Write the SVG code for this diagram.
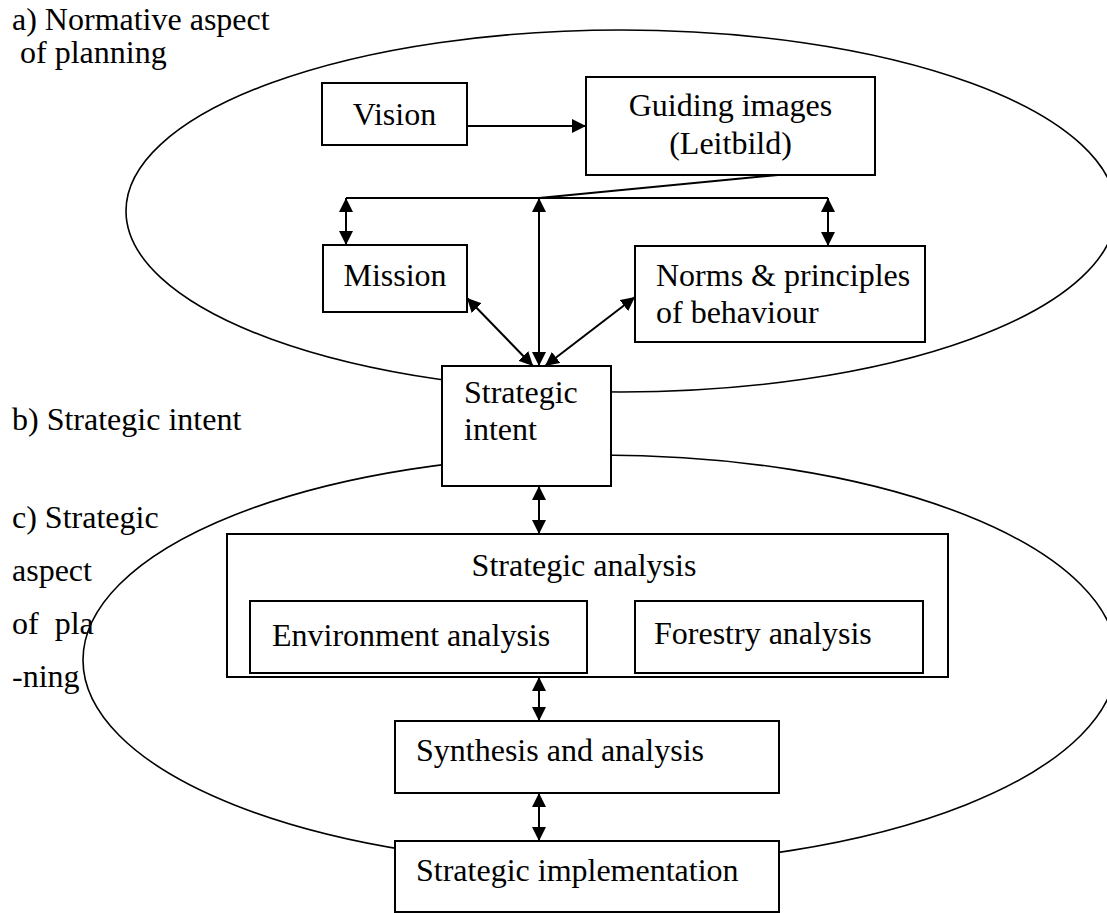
<svg xmlns="http://www.w3.org/2000/svg" width="1107" height="913" viewBox="0 0 1107 913">
<defs>
<style>
text{font-family:"Liberation Serif","Times New Roman",serif;font-size:32px;fill:#000}
.box{fill:#fff;stroke:#000;stroke-width:2}
.ell{fill:none;stroke:#000;stroke-width:1.6}
.con{fill:none;stroke:#000;stroke-width:2}
.mid{text-anchor:middle}
</style>
<marker id="ah" viewBox="0 0 14 14" refX="14" refY="7" markerWidth="14" markerHeight="14" markerUnits="userSpaceOnUse" orient="auto-start-reverse"><path d="M0,0 L14,7 L0,14 z" fill="#000"/></marker>
</defs>
<rect width="1107" height="913" fill="#fff"/>
<g id="labels">
<text x="12" y="30">a) Normative aspect</text>
<text x="12" y="63" xml:space="preserve"> of planning</text>
<text x="12" y="430">b) Strategic intent</text>
<text x="12" y="528">c) Strategic</text>
<text x="12" y="581">aspect</text>
<text x="12" y="634" xml:space="preserve">of  pla</text>
<text x="12" y="687">-ning</text>
</g>
<g id="regions">
<ellipse class="ell" cx="621" cy="211" rx="495" ry="181"/>
<ellipse class="ell" cx="600" cy="660" rx="517" ry="205"/>
</g>
<g id="vision"><rect class="box" x="322" y="83" width="145" height="62"/><text class="mid" x="394.5" y="125">Vision</text></g>
<g id="guiding"><rect class="box" x="586" y="77" width="289" height="98"/><text class="mid" x="730.5" y="116">Guiding images</text><text class="mid" x="730.5" y="154">(Leitbild)</text></g>
<g id="mission"><rect class="box" x="323" y="245" width="144" height="67"/><text class="mid" x="395" y="286">Mission</text></g>
<g id="norms"><rect class="box" x="635" y="246" width="290" height="96"/><text x="656" y="286">Norms &amp; principles</text><text x="656" y="323">of behaviour</text></g>
<g id="intent"><rect class="box" x="442" y="366" width="169" height="120"/><text x="464" y="403">Strategic</text><text x="464" y="440">intent</text></g>
<g id="analysis"><rect class="box" x="227" y="534" width="721" height="143"/><text class="mid" x="584" y="576">Strategic analysis</text></g>
<g id="environment"><rect class="box" x="250" y="601" width="337" height="72"/><text x="272" y="646">Environment analysis</text></g>
<g id="forestry"><rect class="box" x="635" y="601" width="288" height="72"/><text x="654" y="644">Forestry analysis</text></g>
<g id="synthesis"><rect class="box" x="395" y="721" width="384" height="72"/><text x="416" y="761">Synthesis and analysis</text></g>
<g id="implementation"><rect class="box" x="395" y="841" width="384" height="71"/><text x="416" y="881">Strategic implementation</text></g>
<g id="connectors">
<path class="con" d="M467,126 L586,126" marker-end="url(#ah)"/>
<path class="con" d="M778,175 L539,198 M346,198 L828,198"/>
<path class="con" d="M346,198 L346,245" marker-start="url(#ah)" marker-end="url(#ah)"/>
<path class="con" d="M539,198 L539,366" marker-start="url(#ah)" marker-end="url(#ah)"/>
<path class="con" d="M828,198 L828,246" marker-start="url(#ah)" marker-end="url(#ah)"/>
<path class="con" d="M467,298 L533,366" marker-start="url(#ah)" marker-end="url(#ah)"/>
<path class="con" d="M635,297 L545,366" marker-start="url(#ah)" marker-end="url(#ah)"/>
<path class="con" d="M539,486 L539,534" marker-start="url(#ah)" marker-end="url(#ah)"/>
<path class="con" d="M539,677 L539,721" marker-start="url(#ah)" marker-end="url(#ah)"/>
<path class="con" d="M539,793 L539,841" marker-start="url(#ah)" marker-end="url(#ah)"/>
</g>
</svg>
